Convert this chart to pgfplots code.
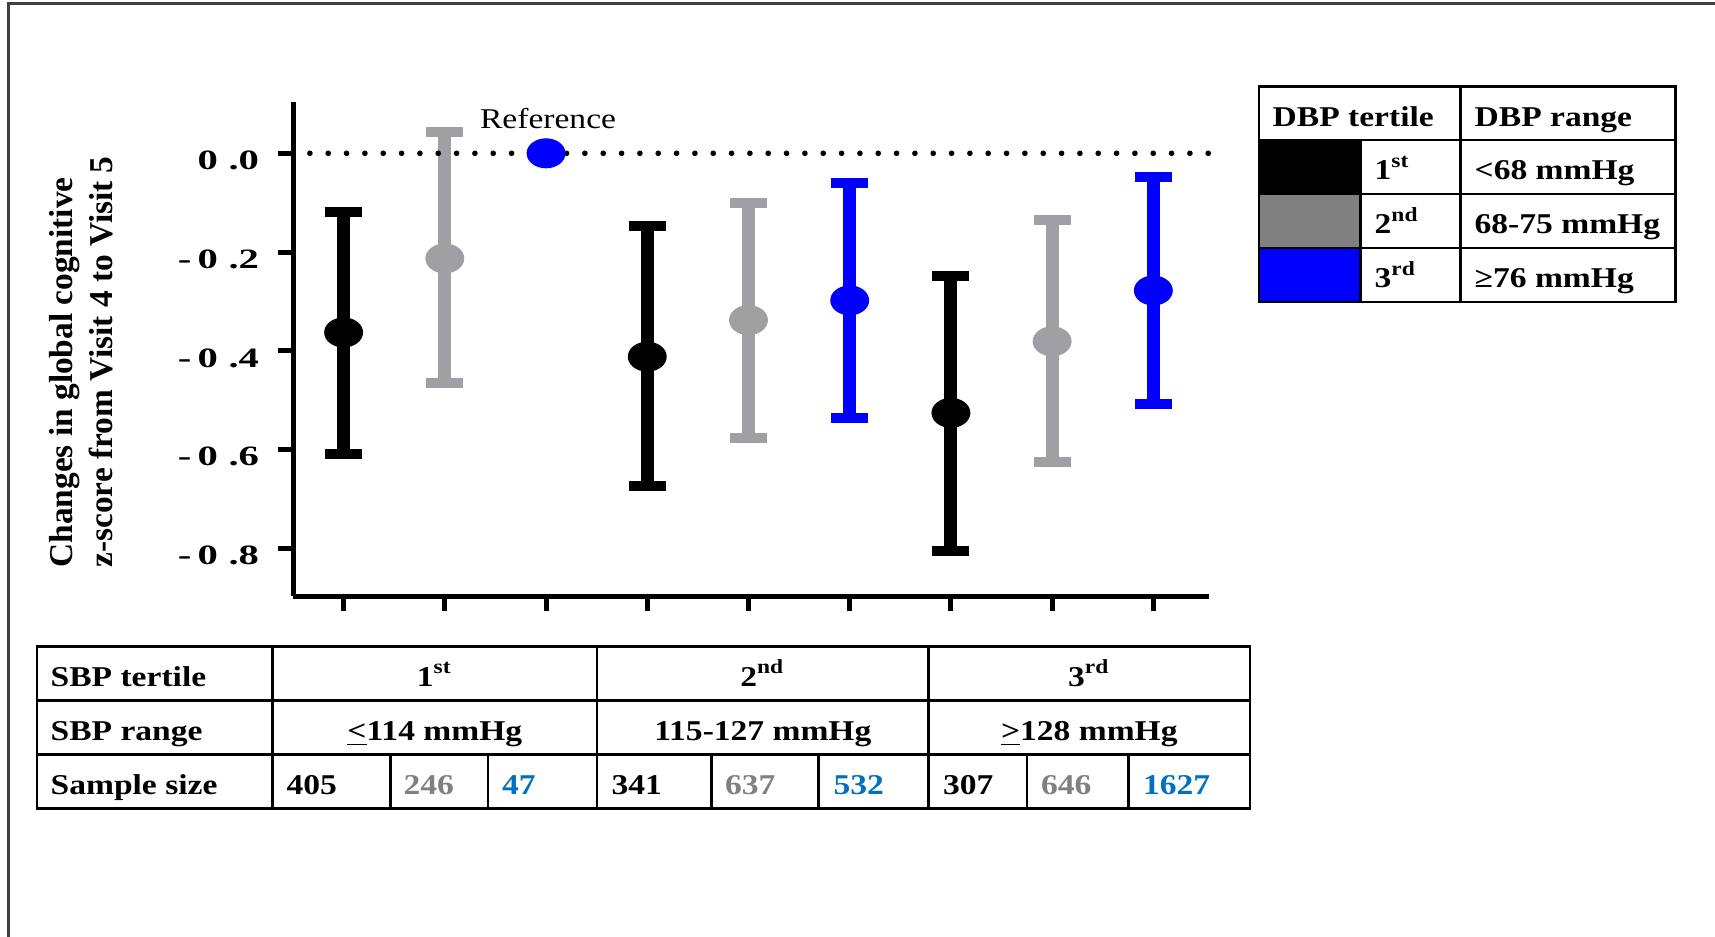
\documentclass[border=0pt]{standalone}
\usepackage{pgfplots}
\pgfplotsset{compat=1.18}
\usepackage{fontspec}
\setmainfont{Liberation Serif}
\usepackage{graphicx}
\definecolor{mgray}{RGB}{160,160,164}
\definecolor{mblue}{RGB}{0,0,255}
\definecolor{tgray}{RGB}{128,128,128}
\definecolor{tblue}{RGB}{0,112,192}
\definecolor{fgray}{RGB}{128,128,128}
\newcommand{\T}[1]{\scalebox{1.17}[1]{#1}}
\newcommand{\yl}[1]{\mbox{\scalebox{1.45}[1]{\fontsize{8.4}{9}\selectfont\bfseries #1}}}

\pgfplotstableread{
x y ep em
1 -0.363 0.244 0.246
4 -0.412 0.265 0.263
7 -0.526 0.278 0.280
}\tone
\pgfplotstableread{
x y ep em
2 -0.213 0.256 0.253
5 -0.338 0.237 0.238
8 -0.381 0.245 0.245
}\ttwo
\pgfplotstableread{
x y ep em
6 -0.298 0.238 0.239
9 -0.278 0.229 0.229
}\tthree

\begin{document}
\begin{tikzpicture}[x=0.3pt,y=-0.3pt,font=\fontsize{8.6}{10}\selectfont\bfseries,
  tx/.style={inner sep=0pt}]
\useasboundingbox (0,0) rectangle (1715,937);
\draw[line width=0.9pt, black!75] (8,937) -- (8,4) -- (1715,4);
\coordinate (O) at (293,596);

\begin{axis}[at={(O)}, anchor=south west, scale only axis,
  width=274.8pt, height=148.2pt,
  xmin=0.5, xmax=9.55, ymin=-0.897, ymax=0.104,
  axis x line=bottom, axis y line=left,
  axis line style={-, line width=1.5pt},
  xtick={1,2,3,4,5,6,7,8,9}, xticklabels={},
  ytick={-0.8,-0.6,-0.4,-0.2,0},
  yticklabels={\yl{-\hspace{1.3pt}0\hspace{2.2pt}.8},\yl{-\hspace{1.3pt}0\hspace{2.2pt}.6},\yl{-\hspace{1.3pt}0\hspace{2.2pt}.4},\yl{-\hspace{1.3pt}0\hspace{2.2pt}.2},\yl{0\hspace{2.2pt}.0}},
  yticklabel style={anchor=east, inner sep=0pt, xshift=-5.4pt, yshift=-2.2pt},
  tick align=outside, major tick length=4.6pt,
  tick style={line width=1.5pt, black},
  clip=false]
\addplot[black, only marks, mark=*, mark size=4.3pt,
  mark options={xscale=1.31, draw=none, fill=black},
  error bars/.cd, y dir=both, y explicit, error mark=|,
  error bar style={line width=3.9pt, black},
  error mark options={line width=3pt, mark size=5.55pt, black}]
  table[x=x,y=y,y error plus=ep,y error minus=em]{\tone};
\addplot[mgray, only marks, mark=*, mark size=4.3pt,
  mark options={xscale=1.31, draw=none, fill=mgray},
  error bars/.cd, y dir=both, y explicit, error mark=|,
  error bar style={line width=3.9pt, mgray},
  error mark options={line width=3pt, mark size=5.55pt, mgray}]
  table[x=x,y=y,y error plus=ep,y error minus=em]{\ttwo};
\addplot[mblue, only marks, mark=*, mark size=4.3pt,
  mark options={xscale=1.31, draw=none, fill=mblue},
  error bars/.cd, y dir=both, y explicit, error mark=|,
  error bar style={line width=3.9pt, mblue},
  error mark options={line width=3pt, mark size=5.55pt, mblue}]
  table[x=x,y=y,y error plus=ep,y error minus=em]{\tthree};
\addplot[black, line width=1.7pt, dash pattern=on 0pt off 5.5pt, line cap=round]
  coordinates {(0.667,0) (9.55,0)};
\addplot[mblue, only marks, mark=*, mark size=4.3pt,
  mark options={xscale=1.31, draw=none, fill=mblue}] coordinates {(3,0)};
\node[anchor=base, inner sep=0pt, font=\fontsize{8.6}{10}\selectfont\mdseries] at (axis cs:3.02,0.0512) {\T{Reference}};
\end{axis}

% y label
\node[rotate=90, anchor=base west, tx, font=\fontsize{10}{12}\selectfont\bfseries] at (72,568) {Changes in global cognitive};
\node[rotate=90, anchor=base west, tx, font=\fontsize{10}{12}\selectfont\bfseries] at (112,568) {z-score from Visit 4 to Visit 5};

% DBP table
\fill[black] (1259,140) rectangle (1360.5,194);
\fill[fgray] (1259,194) rectangle (1360.5,248);
\fill[mblue] (1259,248) rectangle (1360.5,302);
\begin{scope}[line width=0.65pt]
\draw (1259,86.5) rectangle (1675.5,302);
\draw (1259,140) -- (1675.5,140);
\draw (1259,194) -- (1675.5,194);
\draw (1259,248) -- (1675.5,248);
\draw (1460.5,86.5) -- (1460.5,302);
\draw (1360.5,140) -- (1360.5,302);
\end{scope}
\node[anchor=base west, tx] at (1272,126.5) {\T{DBP tertile}};
\node[anchor=base west, tx] at (1474,126.5) {\T{DBP range}};
\node[anchor=base west, tx] at (1374,180) {\T{1\textsuperscript{st}}};
\node[anchor=base west, tx] at (1374,234) {\T{2\textsuperscript{nd}}};
\node[anchor=base west, tx] at (1374,288) {\T{3\textsuperscript{rd}}};
\node[anchor=base west, tx] at (1474,180) {\T{<68 mmHg}};
\node[anchor=base west, tx] at (1474,234) {\T{68-75 mmHg}};
\node[anchor=base west, tx] at (1474,288) {\T{≥76 mmHg}};

% SBP table
\begin{scope}[line width=0.65pt]
\draw (37,646.5) rectangle (1250,808.5);
\draw (37,700.5) -- (1250,700.5);
\draw (37,754.5) -- (1250,754.5);
\draw (272.5,646.5) -- (272.5,808.5);
\draw (597,646.5) -- (597,808.5);
\draw (928.5,646.5) -- (928.5,808.5);
\foreach \xx in {390.5,488,711.5,818.5,1027,1128.5} {\draw (\xx,754.5) -- (\xx,808.5);}
\end{scope}
\node[anchor=base west, tx] at (50,686) {\T{SBP tertile}};
\node[anchor=base west, tx] at (50,740) {\T{SBP range}};
\node[anchor=base west, tx] at (50,794) {\T{Sample size}};
\node[anchor=base, tx] at (434.8,686) {\T{1\textsuperscript{st}}};
\node[anchor=base, tx] at (762.8,686) {\T{2\textsuperscript{nd}}};
\node[anchor=base, tx] at (1089.3,686) {\T{3\textsuperscript{rd}}};
\node[anchor=base, tx] at (434.8,740) {\T{\underline{<}114 mmHg}};
\node[anchor=base, tx] at (762.8,740) {\T{115-127 mmHg}};
\node[anchor=base, tx] at (1089.3,740) {\T{\underline{>}128 mmHg}};
\node[anchor=base west, tx] at (286,794) {\T{405}};
\node[anchor=base west, tx, text=tgray] at (403,794) {\T{246}};
\node[anchor=base west, tx, text=tblue] at (501.5,794) {\T{47}};
\node[anchor=base west, tx] at (611,794) {\T{341}};
\node[anchor=base west, tx, text=tgray] at (724.5,794) {\T{637}};
\node[anchor=base west, tx, text=tblue] at (833,794) {\T{532}};
\node[anchor=base west, tx] at (942.5,794) {\T{307}};
\node[anchor=base west, tx, text=tgray] at (1040.5,794) {\T{646}};
\node[anchor=base west, tx, text=tblue] at (1142.5,794) {\T{1627}};
\end{tikzpicture}
\end{document}
